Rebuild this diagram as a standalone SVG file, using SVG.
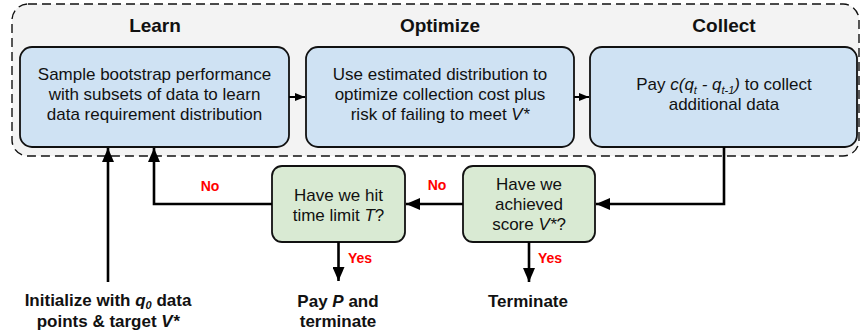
<svg xmlns="http://www.w3.org/2000/svg" width="860" height="335" viewBox="0 0 860 335">
<defs>
<style>
text{font-family:"Liberation Sans",Arial,sans-serif;fill:#111}
.hd{font-size:19px;font-weight:bold;text-anchor:middle}
.bx{font-size:17px;text-anchor:middle}
.bd{font-size:17px;font-weight:bold;text-anchor:middle}
.lb{font-size:14px;font-weight:bold;fill:#ff0000;text-anchor:middle}
.it{font-style:italic}
.blue{fill:#cfe2f3;stroke:#111;stroke-width:1.8}
.green{fill:#d9ead3;stroke:#111;stroke-width:1.8}
.cn{fill:none;stroke:#000;stroke-width:2.6}
.cs{fill:none;stroke:#000;stroke-width:2}
</style>
<marker id="ah" viewBox="0 0 14 12" refX="14" refY="6" markerWidth="14" markerHeight="12" markerUnits="userSpaceOnUse" orient="auto">
<path d="M0,0 L14,6 L0,12 Z" fill="#000"/>
</marker>
<marker id="ahs" viewBox="0 0 10 8" refX="10" refY="4" markerWidth="10" markerHeight="8" markerUnits="userSpaceOnUse" orient="auto">
<path d="M0,0 L10,4 L0,8 Z" fill="#000"/>
</marker>
</defs>
<rect id="frame" x="12" y="4" width="847" height="152" rx="16" fill="#f3f3f3" stroke="#111" stroke-width="1.4" stroke-dasharray="9 5"/>
<g id="headings">
<text class="hd" x="155" y="32">Learn</text>
<text class="hd" x="440" y="32">Optimize</text>
<text class="hd" x="724" y="32">Collect</text>
</g>
<g id="learn">
<rect class="blue" x="20" y="47" width="269" height="100" rx="12"/>
<text class="bx" x="154.5" y="80">Sample bootstrap performance</text>
<text class="bx" x="154.5" y="100">with subsets of data to learn</text>
<text class="bx" x="154.5" y="120">data requirement distribution</text>
</g>
<g id="optimize">
<rect class="blue" x="306" y="47" width="268" height="100" rx="12"/>
<text class="bx" x="440" y="80">Use estimated distribution to</text>
<text class="bx" x="440" y="100">optimize collection cost plus</text>
<text class="bx" x="440" y="120">risk of failing to meet <tspan class="it">V*</tspan></text>
</g>
<g id="collect">
<rect class="blue" x="590" y="47" width="267" height="100" rx="12"/>
<text class="bx" x="724" y="90">Pay <tspan class="it">c(q</tspan><tspan class="it" font-size="11" dy="4">t</tspan><tspan class="it" dy="-4"> - q</tspan><tspan class="it" font-size="11" dy="4">t-1</tspan><tspan class="it" dy="-4">)</tspan> to collect</text>
<text class="bx" x="724" y="110">additional data</text>
</g>
<g id="time-limit">
<rect class="green" x="272" y="166" width="133" height="76" rx="10"/>
<text class="bx" x="338.5" y="201">Have we hit</text>
<text class="bx" x="338.5" y="221">time limit <tspan class="it">T</tspan>?</text>
</g>
<g id="achieved">
<rect class="green" x="463" y="166" width="132" height="76" rx="10"/>
<text class="bx" x="529" y="190">Have we</text>
<text class="bx" x="529" y="210">achieved</text>
<text class="bx" x="529" y="230">score <tspan class="it">V*</tspan>?</text>
</g>
<g id="init">
<text class="bd" x="108" y="306">Initialize with <tspan class="it">q</tspan><tspan class="it" font-size="11" dy="3">0</tspan><tspan dy="-3"> data</tspan></text>
<text class="bd" x="108" y="327">points &amp; target <tspan class="it">V*</tspan></text>
</g>
<g id="pay-terminate">
<text class="bd" x="338" y="307">Pay <tspan class="it">P</tspan> and</text>
<text class="bd" x="338" y="327">terminate</text>
</g>
<g id="terminate">
<text class="bd" x="528" y="307">Terminate</text>
</g>
<g id="connectors">
<path class="cs" d="M289,97 L305,97" marker-end="url(#ahs)"/>
<path class="cs" d="M574,97 L589,97" marker-end="url(#ahs)"/>
<path class="cn" d="M724,147 L724,204 L596,204" marker-end="url(#ah)"/>
<path class="cn" d="M463,204 L406,204" marker-end="url(#ah)"/>
<path class="cn" d="M272,204 L154,204 L154,148" marker-end="url(#ah)"/>
<path class="cn" d="M108,282 L108,148" marker-end="url(#ah)"/>
<path class="cn" d="M338.5,242 L338.5,281" marker-end="url(#ah)"/>
<path class="cn" d="M529,242 L529,282" marker-end="url(#ah)"/>
<text class="lb" x="210" y="191">No</text>
<text class="lb" x="437" y="190">No</text>
<text class="lb" x="360" y="263">Yes</text>
<text class="lb" x="550" y="263">Yes</text>
</g>
</svg>
